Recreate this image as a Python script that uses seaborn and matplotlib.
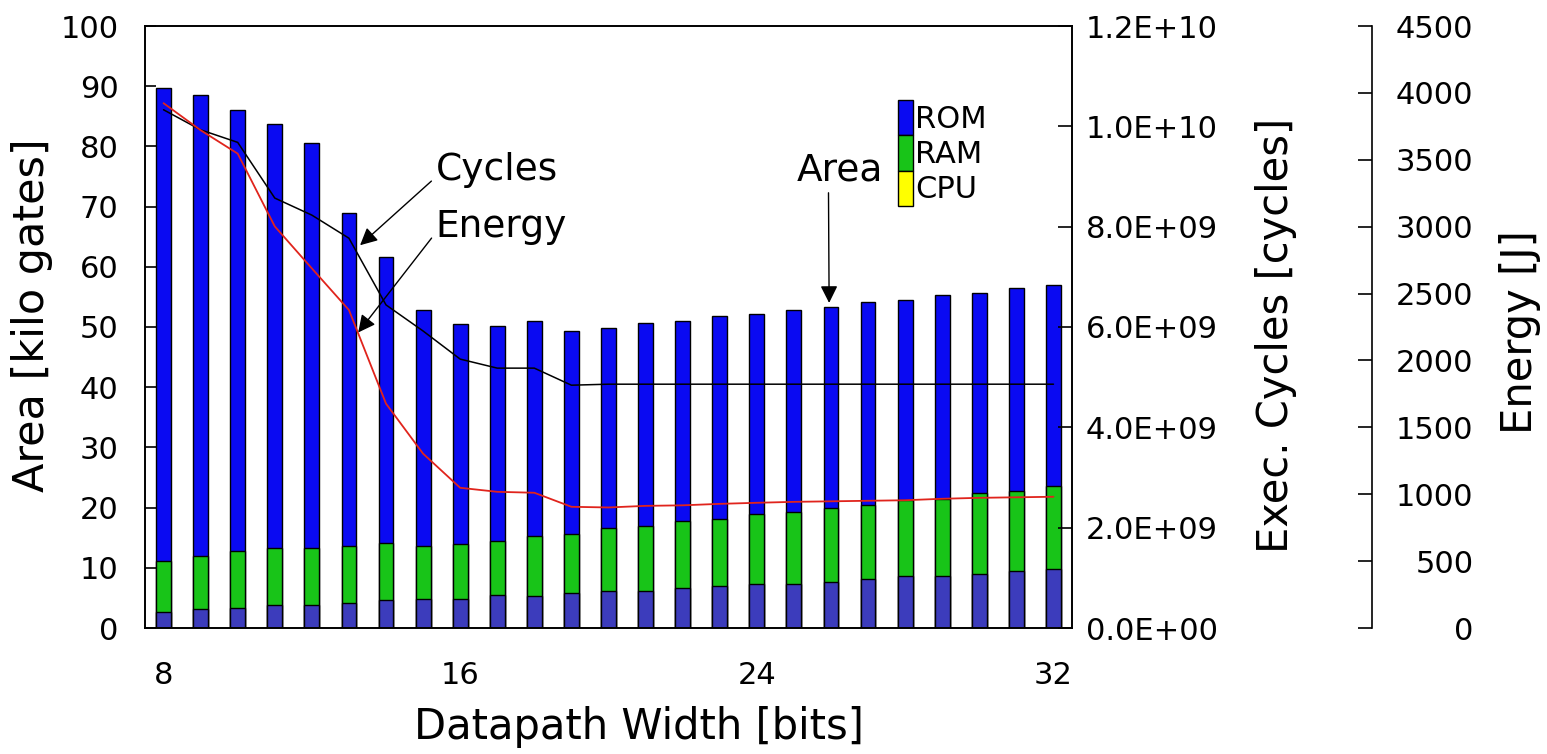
import numpy as np
import pandas as pd
import matplotlib
matplotlib.use("Agg")
import matplotlib.pyplot as plt
from matplotlib.patches import Patch
from matplotlib.ticker import FuncFormatter
import seaborn as sns

# ---------------- data ----------------
widths = list(range(8, 33))
cpu = [2.7, 3.1, 3.4, 3.8, 3.8, 4.1, 4.6, 4.9, 4.9, 5.4, 5.3, 5.8, 6.2,
       6.2, 6.6, 7.0, 7.3, 7.3, 7.7, 8.1, 8.6, 8.6, 9.0, 9.5, 9.8]
ram = [8.5, 8.9, 9.4, 9.5, 9.5, 9.5, 9.5, 8.7, 9.1, 9.0, 9.9, 9.8, 10.4,
       10.7, 11.1, 11.1, 11.6, 11.9, 12.3, 12.3, 12.7, 12.9, 13.4, 13.3, 13.8]
rom = [78.5, 76.5, 73.2, 70.4, 67.2, 55.3, 47.6, 39.3, 36.5, 35.8, 35.8, 33.8, 33.2,
       33.7, 33.3, 33.7, 33.3, 33.7, 33.4, 33.7, 33.2, 33.8, 33.3, 33.7, 33.4]
cycles = [1.033e10, 9.93e9, 9.68e9, 8.57e9, 8.23e9, 7.77e9, 6.44e9, 5.92e9, 5.36e9,
          5.18e9, 5.18e9, 4.84e9, 4.86e9, 4.86e9, 4.86e9, 4.86e9, 4.86e9, 4.86e9,
          4.86e9, 4.86e9, 4.86e9, 4.86e9, 4.86e9, 4.86e9, 4.86e9]
energy = [3923, 3721, 3546, 3002, 2688, 2377, 1677, 1303, 1048, 1018, 1011, 906, 901,
          913, 917, 928, 936, 943, 947, 951, 955, 966, 973, 977, 981]
legend_labels = ["ROM", "RAM", "CPU"]
xtick_vals = [8, 16, 24, 32]
area_ticks = list(range(0, 101, 10))
cycle_ticks = [0, 2e9, 4e9, 6e9, 8e9, 1e10, 1.2e10]
energy_ticks = list(range(0, 4501, 500))

df = pd.DataFrame({"width": widths, "cpu": cpu, "ram": ram, "rom": rom})
df["cpu_ram"] = df["cpu"] + df["ram"]
df["total"] = df["cpu_ram"] + df["rom"]

# ---------------- styling ----------------
sns.set_theme(style="white")
plt.rcParams["font.family"] = ["DejaVu Sans"]
plt.rcParams["axes.linewidth"] = 1.2
plt.rcParams["text.color"] = "black"
plt.rcParams["axes.labelcolor"] = "black"

C_ROM = "#0a0af2"
C_RAM = "#18c418"
C_CPU = "#3c3cbc"
C_CPU_LEG = "#ffff00"
C_RED = "#e0241c"

W, H = 1547, 754
fig = plt.figure(figsize=(W / 100, H / 100), dpi=100)
L, R, B, T = 145, 1072, 628, 26
ax = fig.add_axes([L / W, 1 - B / H, (R - L) / W, (B - T) / H])

common = dict(native_scale=True, width=0.4, saturation=1, edgecolor="black",
              linewidth=1.0, errorbar=None, ax=ax)
sns.barplot(data=df, x="width", y="total", color=C_ROM, **common)
sns.barplot(data=df, x="width", y="cpu_ram", color=C_RAM, **common)
sns.barplot(data=df, x="width", y="cpu", color=C_CPU, **common)

ax.set_xlim(7.5, 32.5)
ax.set_ylim(0, 100)
ax.set_xticks(xtick_vals)
ax.set_xticklabels([str(v) for v in xtick_vals])
ax.set_yticks(area_ticks)
ax.tick_params(axis="x", length=0, pad=24, labelsize=22, colors="black")
ax.tick_params(axis="y", direction="in", length=8, width=1.2, pad=19,
               labelsize=22, colors="black")
for s in ax.spines.values():
    s.set_visible(True)
    s.set_color("black")
    s.set_linewidth(1.2)

ax.set_xlabel("Datapath Width [bits]", fontsize=30, color="black")
ax.xaxis.set_label_coords((639 - L) / (R - L), (B - 727) / (B - T))
ax.xaxis.label.set_va("center")
ax.set_ylabel("Area [kilo gates]", fontsize=31, color="black")
ax.yaxis.set_label_coords((32 - L) / (R - L), (B - 315) / (B - T))
ax.yaxis.label.set_va("center")
ax.yaxis.label.set_ha("center")

# cycles axis
ax2 = ax.twinx()
sns.lineplot(x=widths, y=cycles, ax=ax2, color="black", linewidth=1.1)
ax2.set_ylim(0, 1.2e10)
ax2.set_yticks(cycle_ticks)
ax2.yaxis.set_major_formatter(FuncFormatter(lambda v, p: f"{v:.1E}"))
ax2.tick_params(axis="y", direction="in", length=10, width=1.2, pad=10,
                labelsize=22, colors="black")
ax2.set_ylabel("Exec. Cycles [cycles]", fontsize=30, color="black")
ax2.yaxis.set_label_coords((1276 - L) / (R - L), (B - 335) / (B - T))
ax2.yaxis.label.set_va("center")
ax2.yaxis.label.set_ha("center")
for s in ax2.spines.values():
    s.set_color("black")
    s.set_linewidth(1.2)

# energy axis
ax3 = ax.twinx()
sns.lineplot(x=widths, y=energy, ax=ax3, color=C_RED, linewidth=1.3)
ax3.set_ylim(0, 4500)
ax3.set_yticks(energy_ticks)
ax3.spines["right"].set_position(("axes", (1372 - L) / (R - L)))
for k in ["top", "left", "bottom"]:
    ax3.spines[k].set_visible(False)
ax3.spines["right"].set_color("black")
ax3.spines["right"].set_linewidth(1.2)
ax3.tick_params(axis="y", direction="in", length=10, width=1.2, pad=73,
                labelsize=22, colors="black")
plt.setp(ax3.get_yticklabels(), ha="right")
ax3.set_ylabel("Energy [J]", fontsize=30, color="black")
ax3.yaxis.set_label_coords((1520 - L) / (R - L), (B - 332) / (B - T))
ax3.yaxis.label.set_va("center")
ax3.yaxis.label.set_ha("center")

# annotations
arrow = dict(arrowstyle="-|>", color="black", lw=1.0, mutation_scale=26,
             shrinkA=1, shrinkB=0)
ax2.annotate("Cycles", xy=(13.3, 7.63e9), xytext=(15.34, 8.93e9),
             fontsize=27, ha="left", va="baseline", color="black",
             arrowprops=dict(arrow, relpos=(0, 0.3)))
ax3.annotate("Energy", xy=(13.25, 2209), xytext=(15.34, 2920),
             fontsize=27, ha="left", va="baseline", color="black",
             arrowprops=dict(arrow, relpos=(0, 0.35)))
ax.annotate("Area", xy=(25.95, 54.0), xytext=(25.07, 74.4),
            fontsize=27, ha="left", va="baseline", color="black",
            arrowprops=dict(arrow, relpos=(0.37, 0.05)))

# legend
handles = [Patch(facecolor=C_ROM, edgecolor="black", linewidth=1.0),
           Patch(facecolor=C_RAM, edgecolor="black", linewidth=1.0),
           Patch(facecolor=C_CPU_LEG, edgecolor="black", linewidth=1.0)]
leg = ax3.legend(handles, legend_labels, loc="upper left",
                 bbox_to_anchor=(898 / W, 1 - 100 / H), bbox_transform=fig.transFigure,
                 frameon=False, fontsize=22, handlelength=0.5, handleheight=1.4,
                 labelspacing=0.0, handletextpad=0.05, borderpad=0, borderaxespad=0,
                 labelcolor="black")

fig.savefig("out.png", dpi=100, facecolor="white")
